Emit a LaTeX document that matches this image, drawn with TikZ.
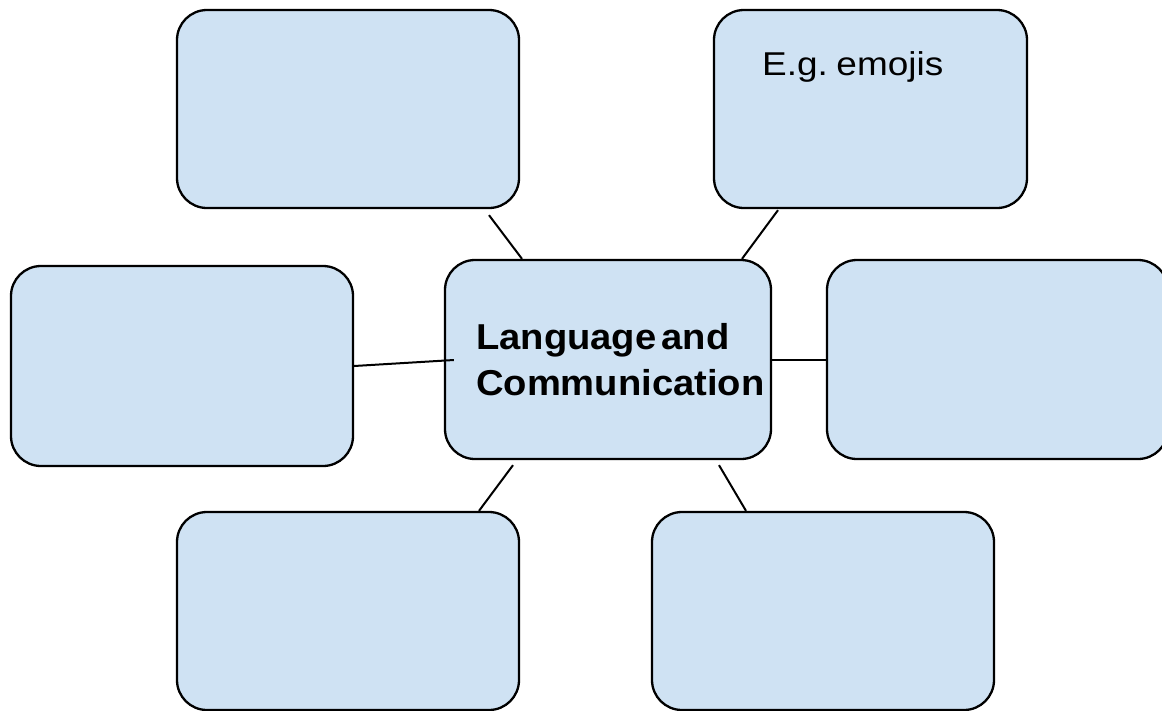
\documentclass[tikz,border=0pt]{standalone}
\usepackage{fontspec}
\setmainfont{Liberation Sans}
\newfontfamily\hubfont[FakeStretch=1.06, WordSpace=0.5]{Liberation Sans}
\newfontfamily\notefont[FakeStretch=1.12, WordSpace=0.5]{Liberation Sans}
\usetikzlibrary{calc, positioning}
\definecolor{boxblue}{HTML}{CFE2F3}

\begin{document}
\begin{tikzpicture}[x=1pt, y=-1pt,
    topic/.style={draw, line width=2.3pt, fill=boxblue, rounded corners=30pt,
        minimum width=342pt, minimum height=198pt, inner sep=0pt},
    link/.style={line width=2pt}]
    \useasboundingbox (0,0) rectangle (1162,710);

    % Central topic
    \node[topic, minimum width=326pt, minimum height=199pt] (lang) at (608,359.5) {};
    \node[font=\hubfont\bfseries\fontsize{36}{46}\selectfont, align=left,
        anchor=north west, inner sep=0pt] (langtext) at (476,323) {Language and\\Communication};

    % Surrounding boxes
    \node[topic] (topleft) at (348,109) {};
    \node[topic, minimum width=313pt] (topright) at (870.5,109) {};
    \node[font=\notefont\fontsize{33}{38}\selectfont, anchor=base west, inner sep=0pt]
        (emojis) at (762,75) {E.g. emojis};
    \node[topic, minimum height=200pt] (left) at (182,366) {};
    \node[topic, minimum width=341pt, minimum height=199pt] (right) at (997.5,359.5) {};
    \node[topic] (botleft) at (348,611) {};
    \node[topic] (botright) at (823,611) {};

    % Connectors
    \draw[link] ($(topleft.south)+(141,6)$) -- ($(lang.north)+(-86,0)$);
    \draw[link] ($(topright.south)+(-92.5,1)$) -- ($(lang.north)+(134,0)$);
    \draw[link] (left.east) -- ($(lang.west)+(10,0.5)$);
    \draw[link] (lang.east) -- (right.west);
    \draw[link] ($(lang.south)+(-95,5)$) -- ($(botleft.north)+(131,0)$);
    \draw[link] ($(lang.south)+(111,5)$) -- ($(botright.north)+(-77,0)$);
\end{tikzpicture}
\end{document}
